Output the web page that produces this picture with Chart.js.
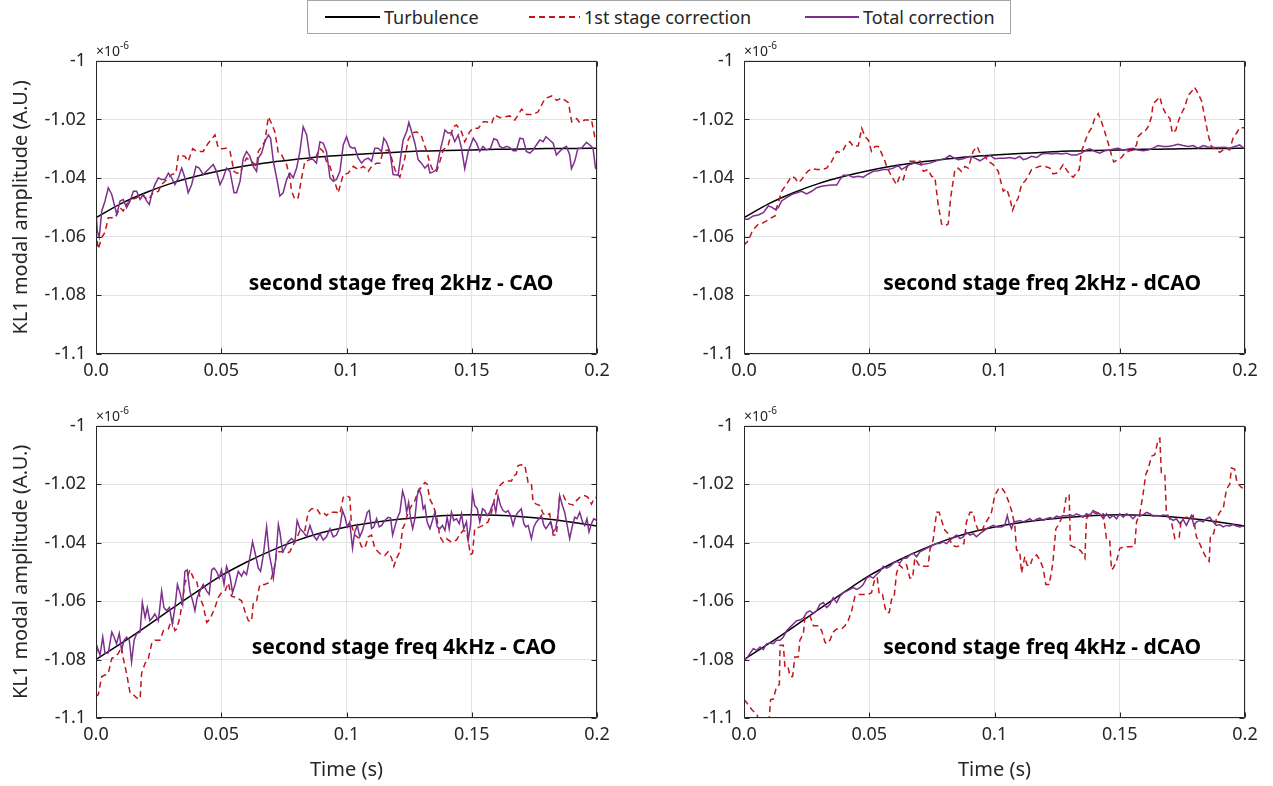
<!DOCTYPE html>
<html>
<head>
<meta charset="utf-8">
<script src="https://cdn.jsdelivr.net/npm/chart.js@4.4.1/dist/chart.umd.min.js"></script>
<style>
  body { margin: 0; width: 1273px; height: 786px; background: #fff; position: relative; overflow: hidden; font-family: "Noto Sans", sans-serif; }
  canvas { position: absolute; }
  #legend { position: absolute; left: 307px; top: 0; width: 702px; height: 32px; border: 1px solid #a6a6a6; background: #fff; }
  .item { position: absolute; top: 0; height: 32px; display: flex; align-items: center; font-size: 18px; color: #262626; white-space: nowrap; }
  .swatch { height: 1.5px; margin-right: 4px; }
</style>
</head>
<body>
<div id="legend"></div>
<canvas id="tl" width="625" height="360" style="left:0;top:40px"></canvas>
<canvas id="tr" width="625" height="360" style="left:648px;top:40px"></canvas>
<canvas id="bl" width="625" height="381" style="left:0;top:405px"></canvas>
<canvas id="br" width="625" height="381" style="left:648px;top:405px"></canvas>
<script>
// axes (values are in units of 1e-6)
const xTicks = [0, 0.05, 0.1, 0.15, 0.2];
const xTickLabels = ["0.0", "0.05", "0.1", "0.15", "0.2"];
const yTicks = [-1.1, -1.08, -1.06, -1.04, -1.02, -1];
const yTickLabels = ["-1.1", "-1.08", "-1.06", "-1.04", "-1.02", "-1"];

const seriesLabels = ["Turbulence", "1st stage correction", "Total correction"];
const seriesColors = ["#000000", "#c0161b", "#7e2f8e"];

// turbulence curves (same for both panels of a row)
const turbTime = [0, 0.01, 0.02, 0.03, 0.04, 0.05, 0.06, 0.07, 0.08, 0.09, 0.1,
  0.11, 0.12, 0.13, 0.14, 0.15, 0.16, 0.17, 0.18, 0.19, 0.2];
const turbTop = [-1.0535, -1.0487, -1.0449, -1.0418, -1.0394, -1.0374, -1.0358, -1.0346, -1.0336, -1.0327, -1.0321,
  -1.0316, -1.0312, -1.0308, -1.0306, -1.0304, -1.0302, -1.0301, -1.0299, -1.0299, -1.0298];
const turbBottom = [-1.08, -1.0745, -1.0687, -1.0627, -1.0569, -1.0513, -1.0467, -1.0427, -1.0393, -1.0366, -1.0346,
  -1.0332, -1.0321, -1.0313, -1.0307, -1.0304, -1.0306, -1.0311, -1.0319, -1.033, -1.0343];

// 2 kHz - CAO
const tlFirst = [[0, -1.058], [0.0009, -1.0642], [0.0023, -1.0602], [0.0036, -1.0585], [0.0049, -1.0535], [0.0076, -1.0535], [0.0083, -1.0523], [0.0096, -1.0501], [0.0109, -1.0512], [0.0122, -1.049], [0.0142, -1.0473], [0.0162, -1.0467], [0.0182, -1.0456], [0.0196, -1.0467], [0.0209, -1.0473], [0.0229, -1.045], [0.0249, -1.0445], [0.0262, -1.0422], [0.0282, -1.0405], [0.0302, -1.0388], [0.0319, -1.0383], [0.0329, -1.0321], [0.0355, -1.0326], [0.0368, -1.0343], [0.0386, -1.03], [0.0402, -1.0309], [0.0428, -1.0309], [0.0448, -1.0281], [0.0475, -1.0253], [0.0488, -1.0298], [0.0501, -1.03], [0.0521, -1.0298], [0.0535, -1.0309], [0.0551, -1.0377], [0.0561, -1.0383], [0.0575, -1.0383], [0.0588, -1.0354], [0.0601, -1.0332], [0.0621, -1.0343], [0.0641, -1.036], [0.0648, -1.0309], [0.0661, -1.0292], [0.0674, -1.0276], [0.0688, -1.0191], [0.0701, -1.0214], [0.0714, -1.0242], [0.0728, -1.0315], [0.0741, -1.0321], [0.0754, -1.0343], [0.0761, -1.0354], [0.0774, -1.0399], [0.0781, -1.0445], [0.0794, -1.0473], [0.0807, -1.0467], [0.0821, -1.0399], [0.0834, -1.0343], [0.0854, -1.0337], [0.0874, -1.0334], [0.0894, -1.0298], [0.0907, -1.0309], [0.092, -1.0343], [0.0934, -1.036], [0.0954, -1.0416], [0.0967, -1.045], [0.0987, -1.0388], [0.1007, -1.0383], [0.1027, -1.036], [0.1047, -1.0371], [0.1067, -1.036], [0.1087, -1.0377], [0.11, -1.036], [0.112, -1.0349], [0.1133, -1.0349], [0.1146, -1.0309], [0.1166, -1.0304], [0.118, -1.0332], [0.1193, -1.0371], [0.1213, -1.0397], [0.1233, -1.0332], [0.1246, -1.027], [0.126, -1.0247], [0.128, -1.0242], [0.13, -1.0259], [0.132, -1.0309], [0.1333, -1.0349], [0.1346, -1.0377], [0.136, -1.0377], [0.1373, -1.0343], [0.1386, -1.0304], [0.1406, -1.0287], [0.1426, -1.0225], [0.1439, -1.0219], [0.1459, -1.0242], [0.1472, -1.0276], [0.1492, -1.0242], [0.1506, -1.023], [0.1526, -1.023], [0.1546, -1.0208], [0.1559, -1.0208], [0.1579, -1.0214], [0.1592, -1.0185], [0.1612, -1.0194], [0.1632, -1.0191], [0.1652, -1.0188], [0.1672, -1.0202], [0.1699, -1.0165], [0.1719, -1.0183], [0.1745, -1.0183], [0.1765, -1.0174], [0.1792, -1.0129], [0.1819, -1.012], [0.1839, -1.0135], [0.1859, -1.0127], [0.1886, -1.0143], [0.1899, -1.0208], [0.1919, -1.0197], [0.1931, -1.0211], [0.1951, -1.0202], [0.1978, -1.0202], [0.1991, -1.0259], [0.2, -1.0266]];
const tlTotal = [[0, -1.0512], [0.0005, -1.058], [0.0013, -1.0602], [0.0023, -1.0512], [0.0036, -1.0478], [0.0049, -1.0433], [0.0063, -1.0456], [0.0076, -1.0501], [0.0083, -1.0523], [0.0096, -1.0478], [0.0109, -1.0473], [0.0122, -1.0501], [0.0136, -1.0478], [0.0149, -1.0445], [0.0162, -1.0445], [0.0176, -1.0473], [0.0189, -1.0456], [0.0202, -1.0478], [0.0213, -1.049], [0.0222, -1.0456], [0.0235, -1.0422], [0.0249, -1.0399], [0.0262, -1.0405], [0.0275, -1.0405], [0.0289, -1.0383], [0.0302, -1.0399], [0.0315, -1.0422], [0.0329, -1.0399], [0.0342, -1.0366], [0.0355, -1.0399], [0.0368, -1.045], [0.0382, -1.0422], [0.0399, -1.036], [0.0412, -1.0366], [0.0428, -1.0388], [0.0448, -1.0371], [0.0468, -1.0354], [0.0481, -1.0377], [0.0495, -1.0422], [0.0508, -1.0399], [0.0521, -1.0366], [0.0535, -1.0377], [0.0551, -1.045], [0.0561, -1.045], [0.0575, -1.0411], [0.0588, -1.0332], [0.0601, -1.0309], [0.0614, -1.0326], [0.0628, -1.036], [0.0641, -1.0377], [0.0648, -1.0332], [0.0661, -1.0315], [0.0674, -1.0276], [0.0688, -1.0253], [0.0697, -1.0264], [0.0708, -1.0343], [0.0721, -1.0399], [0.0734, -1.0461], [0.0747, -1.045], [0.0761, -1.0405], [0.0774, -1.0383], [0.0787, -1.0399], [0.0801, -1.0366], [0.0814, -1.0309], [0.0827, -1.0225], [0.0841, -1.0253], [0.0854, -1.0332], [0.0867, -1.0337], [0.088, -1.0349], [0.0894, -1.0276], [0.0907, -1.0281], [0.092, -1.0309], [0.0934, -1.0399], [0.0947, -1.0411], [0.096, -1.0405], [0.0974, -1.0377], [0.0987, -1.0287], [0.1, -1.0259], [0.1013, -1.0292], [0.1024, -1.0298], [0.1033, -1.0296], [0.1047, -1.0332], [0.106, -1.0349], [0.1073, -1.0337], [0.1087, -1.0332], [0.11, -1.0343], [0.1113, -1.0298], [0.1126, -1.0298], [0.114, -1.0309], [0.1149, -1.0264], [0.116, -1.0278], [0.1173, -1.0309], [0.1186, -1.0388], [0.1206, -1.039], [0.1226, -1.027], [0.124, -1.0242], [0.1249, -1.021], [0.126, -1.0242], [0.1273, -1.0281], [0.1286, -1.0337], [0.1299, -1.0349], [0.1313, -1.0366], [0.1326, -1.0354], [0.1333, -1.0383], [0.1346, -1.0379], [0.1359, -1.0371], [0.1373, -1.0309], [0.1386, -1.0264], [0.1393, -1.0236], [0.1406, -1.0247], [0.1419, -1.0244], [0.1432, -1.0276], [0.1446, -1.0253], [0.1459, -1.0298], [0.1472, -1.0368], [0.1486, -1.0309], [0.1506, -1.0264], [0.1519, -1.0281], [0.1532, -1.0309], [0.1545, -1.0292], [0.1559, -1.0304], [0.1575, -1.0298], [0.1588, -1.0266], [0.1601, -1.027], [0.1612, -1.0292], [0.1625, -1.0298], [0.1639, -1.0292], [0.1652, -1.0296], [0.1665, -1.0307], [0.1678, -1.0307], [0.1692, -1.0264], [0.1705, -1.0266], [0.1718, -1.0309], [0.1732, -1.0315], [0.1745, -1.0304], [0.1758, -1.0287], [0.1772, -1.027], [0.1785, -1.0276], [0.1796, -1.0259], [0.1811, -1.027], [0.1825, -1.0281], [0.1838, -1.0321], [0.1851, -1.0309], [0.1865, -1.0298], [0.1878, -1.0292], [0.1891, -1.0321], [0.1898, -1.0368], [0.1911, -1.0343], [0.1924, -1.0298], [0.1938, -1.0298], [0.1958, -1.0278], [0.1971, -1.0287], [0.1984, -1.0298], [0.1994, -1.0366], [0.2, -1.0371]];

// 2 kHz - dCAO
const trFirst = [[0, -1.0585], [0.0004, -1.0625], [0.0017, -1.0614], [0.0031, -1.0585], [0.0044, -1.0569], [0.0057, -1.0557], [0.0071, -1.0555], [0.009, -1.0546], [0.011, -1.0535], [0.0124, -1.0529], [0.013, -1.0501], [0.0141, -1.0473], [0.015, -1.0445], [0.0164, -1.0428], [0.0177, -1.0411], [0.019, -1.0394], [0.0203, -1.0399], [0.0217, -1.0416], [0.023, -1.0405], [0.0243, -1.0388], [0.0257, -1.0375], [0.027, -1.0368], [0.029, -1.0371], [0.031, -1.0371], [0.033, -1.0366], [0.035, -1.0343], [0.037, -1.0309], [0.0383, -1.0313], [0.0396, -1.0304], [0.041, -1.0281], [0.0423, -1.0276], [0.0436, -1.0292], [0.0456, -1.029], [0.047, -1.023], [0.0483, -1.0259], [0.0496, -1.027], [0.0509, -1.0309], [0.0523, -1.0292], [0.0536, -1.0292], [0.0549, -1.0315], [0.0563, -1.0343], [0.0569, -1.036], [0.0589, -1.0394], [0.0609, -1.0422], [0.0622, -1.0394], [0.0636, -1.0405], [0.0649, -1.0366], [0.0662, -1.0343], [0.0682, -1.0343], [0.0702, -1.0341], [0.0716, -1.0377], [0.0735, -1.0371], [0.0749, -1.0394], [0.0762, -1.0397], [0.0775, -1.049], [0.0789, -1.0557], [0.0802, -1.0563], [0.0815, -1.0557], [0.0825, -1.0467], [0.0842, -1.0371], [0.0855, -1.0366], [0.0868, -1.0377], [0.0882, -1.036], [0.0895, -1.0366], [0.0915, -1.0309], [0.0931, -1.0292], [0.0942, -1.0315], [0.0962, -1.0326], [0.0975, -1.0343], [0.0995, -1.0354], [0.1015, -1.0377], [0.1035, -1.0445], [0.1048, -1.0436], [0.1061, -1.0467], [0.1072, -1.051], [0.1081, -1.049], [0.1095, -1.0467], [0.1108, -1.0422], [0.1121, -1.0411], [0.1134, -1.0394], [0.1148, -1.0371], [0.1161, -1.0366], [0.1181, -1.036], [0.1201, -1.036], [0.1221, -1.0366], [0.1234, -1.0386], [0.1248, -1.0383], [0.1261, -1.0371], [0.1274, -1.0354], [0.1287, -1.0371], [0.1301, -1.0388], [0.1314, -1.0397], [0.1327, -1.0383], [0.1338, -1.0371], [0.1347, -1.0309], [0.1361, -1.0276], [0.1374, -1.0247], [0.1387, -1.023], [0.14, -1.0197], [0.1414, -1.018], [0.1427, -1.0208], [0.144, -1.0242], [0.1454, -1.0281], [0.1467, -1.0321], [0.1476, -1.0345], [0.1494, -1.0337], [0.1507, -1.033], [0.152, -1.0315], [0.154, -1.0307], [0.1553, -1.0304], [0.1567, -1.0287], [0.1573, -1.0259], [0.1587, -1.0247], [0.16, -1.0242], [0.1613, -1.0225], [0.1627, -1.0191], [0.1633, -1.0146], [0.1647, -1.0135], [0.166, -1.0123], [0.167, -1.0157], [0.1684, -1.018], [0.17, -1.0197], [0.171, -1.0247], [0.1724, -1.0236], [0.1733, -1.0208], [0.1746, -1.018], [0.176, -1.0157], [0.1773, -1.0118], [0.1786, -1.0106], [0.1799, -1.009], [0.1813, -1.0112], [0.1826, -1.0135], [0.1839, -1.0191], [0.1853, -1.0253], [0.1866, -1.0292], [0.1886, -1.0304], [0.1899, -1.0312], [0.1913, -1.0304], [0.1926, -1.0298], [0.1939, -1.0304], [0.1952, -1.0264], [0.1966, -1.0247], [0.1979, -1.0228], [0.1986, -1.0228], [0.2, -1.0228]];
const trTotal = [[0, -1.054], [0.0017, -1.054], [0.0037, -1.0529], [0.0057, -1.0526], [0.0077, -1.0518], [0.0097, -1.0495], [0.011, -1.0499], [0.0124, -1.0507], [0.0137, -1.0501], [0.015, -1.0478], [0.017, -1.0467], [0.019, -1.0456], [0.021, -1.045], [0.023, -1.0445], [0.025, -1.0454], [0.027, -1.0445], [0.029, -1.0433], [0.031, -1.0428], [0.033, -1.0425], [0.035, -1.0424], [0.037, -1.0424], [0.0383, -1.0405], [0.0396, -1.039], [0.0416, -1.039], [0.0436, -1.0397], [0.0456, -1.0394], [0.0476, -1.0397], [0.0496, -1.0386], [0.0516, -1.0377], [0.0536, -1.0375], [0.0556, -1.0371], [0.0576, -1.0371], [0.0596, -1.0366], [0.0616, -1.0357], [0.0629, -1.0371], [0.0649, -1.036], [0.0662, -1.0354], [0.0682, -1.0349], [0.0702, -1.0354], [0.0722, -1.0352], [0.0742, -1.0349], [0.0762, -1.0343], [0.0782, -1.0337], [0.0802, -1.0334], [0.0822, -1.0323], [0.0835, -1.033], [0.0855, -1.0337], [0.0875, -1.0334], [0.0902, -1.0326], [0.0922, -1.0332], [0.0942, -1.0341], [0.0962, -1.033], [0.0982, -1.0323], [0.1001, -1.0334], [0.1021, -1.0332], [0.1041, -1.0332], [0.1061, -1.033], [0.1081, -1.0334], [0.1101, -1.0326], [0.1115, -1.0337], [0.1128, -1.0334], [0.1148, -1.0326], [0.1168, -1.033], [0.1188, -1.0318], [0.1208, -1.0315], [0.1228, -1.0318], [0.1248, -1.0315], [0.1267, -1.0318], [0.1287, -1.0315], [0.1307, -1.0321], [0.1327, -1.0321], [0.1347, -1.0315], [0.1367, -1.0304], [0.1381, -1.03], [0.14, -1.0309], [0.142, -1.0315], [0.144, -1.0307], [0.146, -1.0304], [0.148, -1.03], [0.1494, -1.0298], [0.1514, -1.0305], [0.1533, -1.0301], [0.1553, -1.0298], [0.1573, -1.0304], [0.1593, -1.0307], [0.1613, -1.0304], [0.1633, -1.0298], [0.1653, -1.0289], [0.1673, -1.0292], [0.1693, -1.0292], [0.1713, -1.0289], [0.1733, -1.0285], [0.1753, -1.0289], [0.1773, -1.0292], [0.1793, -1.0289], [0.1813, -1.0298], [0.1833, -1.0289], [0.1853, -1.0294], [0.1873, -1.0296], [0.1899, -1.0296], [0.1919, -1.0295], [0.1939, -1.0298], [0.1959, -1.0292], [0.1979, -1.0287], [0.1992, -1.0296], [0.2, -1.0301]];

// 4 kHz - CAO
const blFirst = [[0, -1.0926], [0.0009, -1.092], [0.0023, -1.0858], [0.0036, -1.0853], [0.0049, -1.0847], [0.0063, -1.0796], [0.0076, -1.0791], [0.0089, -1.0779], [0.0102, -1.0757], [0.0109, -1.0796], [0.0122, -1.0847], [0.0136, -1.0914], [0.0149, -1.092], [0.0162, -1.0931], [0.0176, -1.0935], [0.0182, -1.0847], [0.0196, -1.0813], [0.0209, -1.0796], [0.0222, -1.0746], [0.0235, -1.0734], [0.0255, -1.0734], [0.0269, -1.0701], [0.0289, -1.0695], [0.0302, -1.0661], [0.0315, -1.0701], [0.0322, -1.0695], [0.0335, -1.0656], [0.0355, -1.0538], [0.0375, -1.0493], [0.0389, -1.0521], [0.0402, -1.0532], [0.0415, -1.0588], [0.0428, -1.0616], [0.0442, -1.0673], [0.0455, -1.0661], [0.0475, -1.0622], [0.0488, -1.0588], [0.0501, -1.0571], [0.0515, -1.0566], [0.0528, -1.0538], [0.0541, -1.0583], [0.0561, -1.0588], [0.0581, -1.0599], [0.0594, -1.0633], [0.0608, -1.0667], [0.0621, -1.0669], [0.0628, -1.0605], [0.0641, -1.0599], [0.0654, -1.0543], [0.0674, -1.0543], [0.0688, -1.0538], [0.0701, -1.0521], [0.0714, -1.0476], [0.0721, -1.0431], [0.0734, -1.0431], [0.0747, -1.0431], [0.0761, -1.0436], [0.0774, -1.0431], [0.0787, -1.0408], [0.0801, -1.0386], [0.0814, -1.0358], [0.0834, -1.0358], [0.0847, -1.0296], [0.0861, -1.0284], [0.0881, -1.0284], [0.0894, -1.0301], [0.0907, -1.0296], [0.092, -1.0307], [0.0934, -1.0296], [0.096, -1.0296], [0.0974, -1.0301], [0.0987, -1.0245], [0.1, -1.0239], [0.1013, -1.0245], [0.102, -1.0341], [0.1033, -1.0374], [0.1047, -1.0383], [0.106, -1.0414], [0.1073, -1.0419], [0.1087, -1.038], [0.11, -1.0374], [0.1113, -1.0419], [0.1126, -1.0431], [0.114, -1.0442], [0.1153, -1.0444], [0.1166, -1.0431], [0.118, -1.0453], [0.1189, -1.0481], [0.12, -1.0453], [0.1213, -1.0431], [0.1224, -1.0352], [0.1233, -1.0335], [0.1246, -1.0296], [0.126, -1.0273], [0.1273, -1.0256], [0.1286, -1.0223], [0.1299, -1.0211], [0.1313, -1.0194], [0.1322, -1.02], [0.1333, -1.0251], [0.1346, -1.0273], [0.1359, -1.0307], [0.1373, -1.038], [0.1386, -1.0397], [0.1399, -1.0386], [0.1419, -1.0399], [0.1439, -1.0391], [0.1452, -1.0372], [0.1466, -1.0358], [0.1479, -1.0363], [0.1495, -1.044], [0.1503, -1.0436], [0.1512, -1.0352], [0.1532, -1.0346], [0.1545, -1.0341], [0.1565, -1.0329], [0.1579, -1.0296], [0.1592, -1.0245], [0.1605, -1.0211], [0.1625, -1.0194], [0.1645, -1.0189], [0.1659, -1.0189], [0.1665, -1.0172], [0.1678, -1.0166], [0.1685, -1.0136], [0.1698, -1.0133], [0.1712, -1.0136], [0.1725, -1.0194], [0.1738, -1.0197], [0.1745, -1.0262], [0.1758, -1.0268], [0.1772, -1.0273], [0.1785, -1.0301], [0.1798, -1.0307], [0.1811, -1.0301], [0.1825, -1.0374], [0.1838, -1.0374], [0.1851, -1.0239], [0.1865, -1.0237], [0.1878, -1.0262], [0.1891, -1.0268], [0.1905, -1.0271], [0.1918, -1.0256], [0.1931, -1.0245], [0.1951, -1.0239], [0.1964, -1.0245], [0.1978, -1.0268], [0.1991, -1.0245], [0.2, -1.0245]];
const blTotal = [[0, -1.0791], [0.0005, -1.0757], [0.0016, -1.0785], [0.0027, -1.0723], [0.0036, -1.0779], [0.0049, -1.0777], [0.0063, -1.0706], [0.0072, -1.0723], [0.0082, -1.0746], [0.0093, -1.071], [0.0102, -1.0768], [0.0112, -1.0734], [0.0122, -1.0723], [0.0133, -1.0734], [0.0142, -1.0808], [0.0152, -1.0734], [0.0162, -1.0712], [0.0176, -1.0706], [0.0185, -1.0605], [0.0196, -1.0656], [0.0205, -1.0622], [0.0215, -1.0667], [0.0226, -1.0656], [0.0235, -1.0644], [0.0249, -1.0667], [0.0262, -1.0566], [0.0271, -1.0622], [0.0282, -1.0633], [0.0293, -1.0622], [0.0305, -1.0678], [0.0315, -1.0622], [0.0325, -1.0543], [0.0335, -1.0571], [0.0346, -1.0611], [0.0355, -1.0498], [0.0364, -1.0493], [0.0375, -1.0566], [0.0386, -1.0599], [0.0395, -1.0633], [0.0404, -1.0588], [0.0415, -1.0566], [0.0428, -1.0543], [0.0442, -1.0566], [0.0452, -1.0577], [0.0462, -1.0493], [0.0471, -1.0487], [0.0481, -1.0498], [0.0492, -1.0521], [0.0501, -1.0493], [0.0511, -1.0543], [0.0521, -1.0481], [0.0535, -1.0515], [0.0545, -1.0571], [0.0555, -1.0543], [0.0568, -1.0498], [0.0581, -1.0515], [0.059, -1.0498], [0.0601, -1.0509], [0.0614, -1.0453], [0.0625, -1.0397], [0.0634, -1.0431], [0.0648, -1.0487], [0.0657, -1.0498], [0.0668, -1.0442], [0.0681, -1.0346], [0.0692, -1.0442], [0.0701, -1.0481], [0.0708, -1.0521], [0.0718, -1.0453], [0.0728, -1.0338], [0.0734, -1.0363], [0.0745, -1.0431], [0.0754, -1.0419], [0.0767, -1.0397], [0.0781, -1.0386], [0.0794, -1.0397], [0.0803, -1.0324], [0.0814, -1.0352], [0.0827, -1.0363], [0.0841, -1.038], [0.0854, -1.0341], [0.0867, -1.0374], [0.0881, -1.0391], [0.0894, -1.0369], [0.0907, -1.0391], [0.092, -1.038], [0.0934, -1.0352], [0.0947, -1.038], [0.096, -1.0374], [0.0974, -1.0346], [0.0984, -1.029], [0.0994, -1.0313], [0.1003, -1.0346], [0.1013, -1.0329], [0.1024, -1.0419], [0.1033, -1.0363], [0.1043, -1.0341], [0.1053, -1.038], [0.1064, -1.0358], [0.1073, -1.0329], [0.1083, -1.0296], [0.1091, -1.029], [0.11, -1.0352], [0.1109, -1.0346], [0.112, -1.0318], [0.1131, -1.0346], [0.114, -1.0341], [0.1153, -1.0324], [0.1166, -1.0313], [0.1176, -1.0316], [0.1184, -1.0374], [0.1193, -1.0346], [0.1202, -1.0318], [0.1213, -1.0296], [0.1224, -1.0223], [0.1233, -1.0251], [0.124, -1.0296], [0.1248, -1.0262], [0.1256, -1.0318], [0.1264, -1.0352], [0.1273, -1.0318], [0.1282, -1.0239], [0.129, -1.0217], [0.1299, -1.0239], [0.1306, -1.0284], [0.1313, -1.0273], [0.1322, -1.0329], [0.1333, -1.0352], [0.1343, -1.0324], [0.1353, -1.0296], [0.1362, -1.0346], [0.1373, -1.0352], [0.1383, -1.0341], [0.1393, -1.0358], [0.1402, -1.0313], [0.141, -1.0352], [0.1419, -1.0296], [0.1428, -1.0324], [0.1439, -1.0318], [0.145, -1.0335], [0.1459, -1.0301], [0.1468, -1.0352], [0.1479, -1.0329], [0.1486, -1.0391], [0.1495, -1.0341], [0.1503, -1.023], [0.1512, -1.0273], [0.1522, -1.0284], [0.1532, -1.0329], [0.1543, -1.0284], [0.1552, -1.029], [0.1561, -1.0307], [0.1572, -1.0296], [0.1579, -1.0279], [0.1588, -1.0262], [0.1596, -1.0296], [0.1605, -1.0239], [0.1615, -1.0273], [0.1625, -1.029], [0.1636, -1.0296], [0.1645, -1.029], [0.1655, -1.0307], [0.1665, -1.0341], [0.1676, -1.0307], [0.1685, -1.0296], [0.1698, -1.0284], [0.1708, -1.0335], [0.1716, -1.0346], [0.1725, -1.0341], [0.1738, -1.0386], [0.1748, -1.0346], [0.1758, -1.0329], [0.1769, -1.0318], [0.1778, -1.0307], [0.1788, -1.0341], [0.1796, -1.0352], [0.1805, -1.0341], [0.1814, -1.0329], [0.1825, -1.0363], [0.1835, -1.0352], [0.1845, -1.0301], [0.1851, -1.0239], [0.1862, -1.0273], [0.1871, -1.0296], [0.1881, -1.0341], [0.1891, -1.0386], [0.1902, -1.0341], [0.1911, -1.0313], [0.192, -1.0318], [0.1931, -1.0296], [0.1942, -1.0329], [0.1951, -1.0341], [0.196, -1.0318], [0.1968, -1.0363], [0.1978, -1.0335], [0.1987, -1.0318], [0.2, -1.0324]];

// 4 kHz - dCAO
const brFirst = [[0, -1.0937], [0.0011, -1.0948], [0.0031, -1.0971], [0.0051, -1.0988], [0.0064, -1.1016], [0.009, -1.1027], [0.0101, -1.0999], [0.0106, -1.0937], [0.0117, -1.0935], [0.013, -1.0892], [0.0141, -1.0886], [0.0144, -1.0751], [0.0157, -1.0751], [0.0164, -1.083], [0.0177, -1.083], [0.0184, -1.0858], [0.0194, -1.0858], [0.0203, -1.0791], [0.0217, -1.0791], [0.0223, -1.0734], [0.0237, -1.0712], [0.0243, -1.0656], [0.0263, -1.065], [0.0277, -1.0684], [0.0297, -1.0684], [0.031, -1.0701], [0.0323, -1.074], [0.033, -1.0746], [0.0343, -1.0734], [0.0356, -1.0706], [0.037, -1.0695], [0.039, -1.0695], [0.0403, -1.0684], [0.0416, -1.0667], [0.043, -1.0633], [0.0443, -1.0583], [0.0456, -1.0577], [0.0476, -1.0577], [0.0496, -1.0577], [0.0509, -1.0571], [0.0523, -1.0521], [0.0532, -1.0521], [0.054, -1.0577], [0.0553, -1.0577], [0.0563, -1.0622], [0.0569, -1.0639], [0.058, -1.0639], [0.0589, -1.0594], [0.0599, -1.0588], [0.0609, -1.0504], [0.062, -1.0476], [0.0633, -1.0487], [0.0649, -1.0476], [0.0662, -1.0521], [0.0673, -1.0521], [0.0682, -1.0453], [0.0702, -1.0481], [0.0722, -1.0481], [0.0735, -1.0481], [0.0742, -1.0425], [0.0755, -1.0391], [0.0769, -1.0296], [0.0779, -1.0296], [0.0789, -1.0324], [0.0802, -1.0358], [0.0815, -1.0369], [0.0829, -1.0408], [0.0849, -1.0414], [0.0868, -1.0408], [0.0878, -1.0403], [0.0888, -1.0329], [0.0902, -1.0296], [0.0915, -1.0296], [0.0922, -1.0329], [0.0935, -1.0358], [0.0948, -1.0363], [0.0962, -1.0335], [0.0975, -1.0318], [0.0988, -1.0296], [0.1001, -1.0239], [0.1015, -1.0217], [0.1028, -1.0211], [0.1041, -1.0228], [0.1055, -1.0256], [0.1068, -1.029], [0.1081, -1.0341], [0.1088, -1.0425], [0.1101, -1.0431], [0.1108, -1.0504], [0.1121, -1.0448], [0.113, -1.0476], [0.1141, -1.0481], [0.1152, -1.0453], [0.1168, -1.0442], [0.1181, -1.0459], [0.1194, -1.0487], [0.1205, -1.0543], [0.1218, -1.0543], [0.1228, -1.0498], [0.1234, -1.0459], [0.1245, -1.0352], [0.1254, -1.0341], [0.1267, -1.0318], [0.1277, -1.0296], [0.1287, -1.0239], [0.1298, -1.0237], [0.1303, -1.0408], [0.1314, -1.0414], [0.1334, -1.0419], [0.1347, -1.0431], [0.1361, -1.0453], [0.1367, -1.0318], [0.1381, -1.0301], [0.1394, -1.0296], [0.1407, -1.0301], [0.142, -1.0296], [0.1434, -1.0301], [0.1447, -1.0386], [0.146, -1.0391], [0.1467, -1.0493], [0.1474, -1.0487], [0.1487, -1.0464], [0.15, -1.0419], [0.152, -1.0414], [0.154, -1.0414], [0.156, -1.0412], [0.1567, -1.0329], [0.158, -1.0301], [0.1593, -1.0234], [0.1604, -1.0166], [0.1613, -1.0149], [0.1627, -1.0104], [0.164, -1.0099], [0.1653, -1.0048], [0.166, -1.0043], [0.1666, -1.0161], [0.168, -1.0166], [0.1686, -1.0296], [0.1706, -1.0329], [0.172, -1.0386], [0.1737, -1.0383], [0.1746, -1.0318], [0.1766, -1.0313], [0.178, -1.0316], [0.1793, -1.0307], [0.1806, -1.038], [0.1819, -1.0403], [0.1833, -1.0431], [0.1846, -1.0453], [0.1857, -1.0464], [0.1862, -1.0374], [0.1875, -1.0369], [0.1886, -1.0318], [0.1899, -1.0296], [0.1913, -1.0284], [0.1926, -1.0217], [0.1939, -1.02], [0.1946, -1.0144], [0.1959, -1.0149], [0.1968, -1.0194], [0.1986, -1.0211], [0.2, -1.0217]];
const brTotal = [[0, -1.08], [0.0011, -1.0796], [0.0024, -1.0779], [0.0037, -1.0763], [0.0051, -1.0768], [0.0064, -1.0757], [0.0077, -1.0766], [0.009, -1.0746], [0.0104, -1.0743], [0.0117, -1.0746], [0.013, -1.0734], [0.0144, -1.0734], [0.0157, -1.0723], [0.017, -1.0701], [0.0184, -1.0689], [0.0197, -1.0678], [0.021, -1.0667], [0.0223, -1.0665], [0.0237, -1.0658], [0.025, -1.0639], [0.0263, -1.0633], [0.0277, -1.0642], [0.029, -1.0633], [0.0303, -1.0611], [0.0317, -1.0605], [0.033, -1.0622], [0.0343, -1.0611], [0.0356, -1.0588], [0.037, -1.0605], [0.0383, -1.0583], [0.0396, -1.0571], [0.041, -1.0566], [0.0423, -1.056], [0.0436, -1.0554], [0.045, -1.056], [0.0463, -1.0554], [0.0476, -1.0543], [0.0489, -1.0521], [0.0503, -1.0515], [0.0516, -1.0521], [0.0529, -1.0509], [0.0543, -1.0498], [0.0556, -1.0481], [0.0569, -1.0487], [0.0583, -1.0481], [0.0596, -1.047], [0.0609, -1.0464], [0.0622, -1.047], [0.0636, -1.0453], [0.0649, -1.0453], [0.0662, -1.0442], [0.0676, -1.0436], [0.0689, -1.0448], [0.0702, -1.0431], [0.0716, -1.0425], [0.0729, -1.0419], [0.0742, -1.0414], [0.0755, -1.0408], [0.0769, -1.0403], [0.0782, -1.0403], [0.0795, -1.0397], [0.0809, -1.0403], [0.0822, -1.0391], [0.0835, -1.0383], [0.0849, -1.0374], [0.0862, -1.0386], [0.0875, -1.038], [0.0888, -1.0365], [0.0902, -1.0374], [0.0915, -1.0369], [0.0928, -1.038], [0.0942, -1.0369], [0.0955, -1.0361], [0.0968, -1.0352], [0.0982, -1.0346], [0.0995, -1.0341], [0.1008, -1.0346], [0.1028, -1.0346], [0.1041, -1.0341], [0.1051, -1.0307], [0.1059, -1.0335], [0.1068, -1.0352], [0.1077, -1.0329], [0.1088, -1.0327], [0.1101, -1.0324], [0.1115, -1.0329], [0.1128, -1.0324], [0.1141, -1.0318], [0.1154, -1.0327], [0.1168, -1.032], [0.1181, -1.0316], [0.1194, -1.0324], [0.1208, -1.0318], [0.1221, -1.0314], [0.1234, -1.0318], [0.1248, -1.0309], [0.1261, -1.0313], [0.1274, -1.0307], [0.1287, -1.0309], [0.1301, -1.0304], [0.1314, -1.0309], [0.1327, -1.0301], [0.1341, -1.0307], [0.1354, -1.0313], [0.1367, -1.0301], [0.1381, -1.0307], [0.1394, -1.029], [0.1407, -1.0296], [0.142, -1.0301], [0.1434, -1.0318], [0.1447, -1.0301], [0.146, -1.0316], [0.1474, -1.0307], [0.1487, -1.0318], [0.15, -1.0301], [0.1514, -1.0313], [0.1527, -1.0301], [0.154, -1.0307], [0.1553, -1.0318], [0.1567, -1.0305], [0.158, -1.0309], [0.1593, -1.0305], [0.1607, -1.0296], [0.162, -1.0301], [0.1633, -1.0309], [0.1647, -1.0307], [0.166, -1.0309], [0.1673, -1.0305], [0.1686, -1.0307], [0.17, -1.0316], [0.1713, -1.0324], [0.1726, -1.0318], [0.174, -1.0335], [0.1753, -1.032], [0.1766, -1.0341], [0.178, -1.0316], [0.1786, -1.0307], [0.1796, -1.0341], [0.1806, -1.0329], [0.1819, -1.0324], [0.1833, -1.0329], [0.1846, -1.0318], [0.1859, -1.0313], [0.1873, -1.0329], [0.1886, -1.0341], [0.1899, -1.0338], [0.1913, -1.0346], [0.1926, -1.0341], [0.1939, -1.0343], [0.1952, -1.0338], [0.1966, -1.0343], [0.1979, -1.0346], [0.1992, -1.0343], [0.2, -1.0346]];

const FONT = '"Noto Sans", sans-serif';
Chart.defaults.font.family = FONT;
Chart.defaults.color = "#262626";

// legend (shared by the four panels)
const legendLeft = [17, 221, 497];
const legendLine = [55, 51, 54];
const legend = document.getElementById("legend");
seriesLabels.forEach((label, i) => {
  const item = document.createElement("div");
  item.className = "item";
  item.style.left = legendLeft[i] + "px";
  const sw = document.createElement("span");
  sw.className = "swatch";
  sw.style.width = legendLine[i] + "px";
  sw.style.background = i === 1
    ? "repeating-linear-gradient(to right, " + seriesColors[i] + " 0 6px, transparent 6px 10px)"
    : seriesColors[i];
  item.appendChild(sw);
  item.appendChild(document.createTextNode(label));
  legend.appendChild(item);
});

// box, inward ticks, exponent and panel caption
const panelDecor = {
  id: "panelDecor",
  afterDraw(chart, args, opts) {
    const { ctx, chartArea: a, scales: { x, y } } = chart;
    const L = Math.round(a.left) + 0.5, R = Math.round(a.right) - 0.5;
    const T = Math.round(a.top) + 0.5, B = Math.round(a.bottom) - 0.5;
    ctx.save();
    ctx.strokeStyle = "#262626";
    ctx.lineWidth = 1;
    ctx.beginPath();
    xTicks.forEach((v) => {
      const px = Math.round(x.getPixelForValue(v)) + 0.5;
      ctx.moveTo(px, B); ctx.lineTo(px, B - 5);
      ctx.moveTo(px, T); ctx.lineTo(px, T + 5);
    });
    yTicks.forEach((v) => {
      const py = Math.round(y.getPixelForValue(v)) + 0.5;
      ctx.moveTo(L, py); ctx.lineTo(L + 5, py);
      ctx.moveTo(R, py); ctx.lineTo(R - 5, py);
    });
    ctx.rect(L, T, R - L, B - T);
    ctx.stroke();

    ctx.fillStyle = "#262626";
    ctx.textBaseline = "alphabetic";
    ctx.textAlign = "left";
    ctx.font = "14px " + FONT;
    ctx.fillText("×10", a.left, a.top - 5);
    const w = ctx.measureText("×10").width;
    ctx.font = "10px " + FONT;
    ctx.fillText("-6", a.left + w, a.top - 12);

    ctx.fillStyle = "#000";
    ctx.font = "bold 21px " + FONT;
    ctx.textAlign = "center";
    ctx.textBaseline = "middle";
    ctx.fillText(opts.note, x.getPixelForValue(opts.noteX), y.getPixelForValue(opts.noteY));
    ctx.restore();
  },
};

function makePanel(id, first, total, turb, note, noteX, bottomRow, leftCol) {
  new Chart(document.getElementById(id), {
    type: "line",
    data: {
      datasets: [
        {
          label: seriesLabels[0],
          data: turbTime.map((t, i) => [t, turb[i]]),
          borderColor: seriesColors[0],
          borderWidth: 1.5,
          cubicInterpolationMode: "monotone",
          order: 3,
        },
        {
          label: seriesLabels[1],
          data: first,
          borderColor: seriesColors[1],
          borderWidth: 1.5,
          borderDash: [6, 4],
          order: 2,
        },
        {
          label: seriesLabels[2],
          data: total,
          borderColor: seriesColors[2],
          borderWidth: 1.5,
          order: 1,
        },
      ],
    },
    options: {
      responsive: false,
      animation: false,
      events: [],
      layout: { padding: { top: 18, right: 28, left: 0, bottom: 0 } },
      elements: { point: { radius: 0 }, line: { tension: 0, fill: false } },
      plugins: {
        legend: { display: false },
        tooltip: { enabled: false },
        panelDecor: { note: note, noteX: noteX, noteY: -1.0762 },
      },
      scales: {
        x: {
          type: "linear",
          min: 0,
          max: 0.2,
          afterBuildTicks: (s) => { s.ticks = xTicks.map((v) => ({ value: v })); },
          afterFit: (s) => { s.height = bottomRow ? 68 : 46; },
          ticks: {
            autoSkip: false,
            maxRotation: 0,
            padding: 6,
            font: { size: 18 },
            callback: (v, i) => xTickLabels[i],
          },
          grid: { color: "#e3e3e3", drawTicks: false },
          border: { display: false },
          title: {
            display: bottomRow,
            text: "Time (s)",
            font: { size: 20 },
            padding: { top: 0, bottom: 4 },
          },
        },
        y: {
          type: "linear",
          min: -1.1,
          max: -1,
          afterBuildTicks: (s) => { s.ticks = yTicks.map((v) => ({ value: v })); },
          afterFit: (s) => { s.width = 96; },
          ticks: {
            autoSkip: false,
            padding: 10,
            font: { size: 18 },
            callback: (v, i) => yTickLabels[i],
          },
          grid: { color: "#e3e3e3", drawTicks: false },
          border: { display: false },
          title: {
            display: leftCol,
            text: "KL1 modal amplitude (A.U.)",
            font: { size: 20 },
            padding: { top: 9, bottom: 0 },
          },
        },
      },
    },
    plugins: [panelDecor],
  });
}

makePanel("tl", tlFirst, tlTotal, turbTop, "second stage freq 2kHz - CAO", 0.1218, false, true);
makePanel("tr", trFirst, trTotal, turbTop, "second stage freq 2kHz - dCAO", 0.119, false, false);
makePanel("bl", blFirst, blTotal, turbBottom, "second stage freq 4kHz - CAO", 0.123, true, true);
makePanel("br", brFirst, brTotal, turbBottom, "second stage freq 4kHz - dCAO", 0.119, true, false);
</script>
</body>
</html>
